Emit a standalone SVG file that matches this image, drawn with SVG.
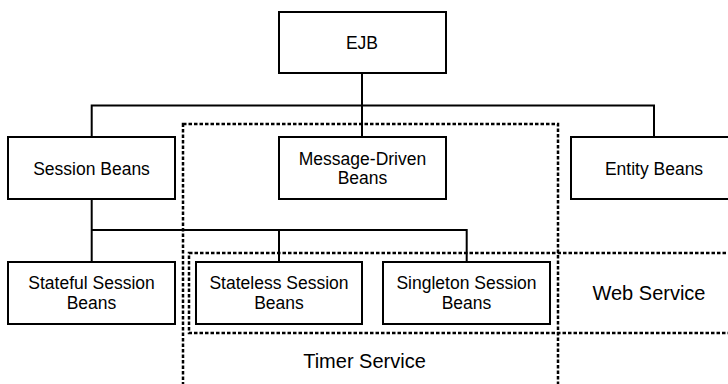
<svg xmlns="http://www.w3.org/2000/svg" width="728" height="384" viewBox="0 0 728 384">
<style>
.box{fill:#fff;stroke:#000;stroke-width:2}
.t{font-family:"Liberation Sans",Arial,sans-serif;font-size:17.5px;fill:#000;text-anchor:middle}
.big{font-size:20px}
.c{fill:none;stroke:#000;stroke-width:2}
.d{fill:none;stroke:#000;stroke-width:2.5;stroke-dasharray:3.5,2}
</style>
<rect width="728" height="384" fill="#fff"/>
<g id="connectors">
<polyline class="c" points="362,73 362,137"/>
<polyline class="c" points="91.7,137 91.7,105.5 654,105.5 654,137"/>
<polyline class="c" points="91.7,199 91.7,262"/>
<polyline class="c" points="91.7,230 466.7,230 466.7,262"/>
<polyline class="c" points="279,230 279,262"/>
</g>
<g id="ejb"><rect class="box" x="279" y="12" width="167" height="61"/><text class="t" x="362" y="49">EJB</text></g>
<g id="session-beans"><rect class="box" x="8" y="137" width="167" height="62"/><text class="t" x="91.5" y="175">Session Beans</text></g>
<g id="message-driven-beans"><rect class="box" x="279" y="137" width="167" height="62"/><text class="t" x="362.5" y="164.5">Message-Driven</text><text class="t" x="362.5" y="184">Beans</text></g>
<g id="entity-beans"><rect class="box" x="571" y="137" width="166" height="62"/><text class="t" x="654" y="175">Entity Beans</text></g>
<g id="stateful-session-beans"><rect class="box" x="8" y="262" width="167" height="62"/><text class="t" x="91.5" y="288.5">Stateful Session</text><text class="t" x="91.5" y="308.5">Beans</text></g>
<g id="stateless-session-beans"><rect class="box" x="196" y="262" width="166" height="62"/><text class="t" x="279" y="288.5">Stateless Session</text><text class="t" x="279" y="308.5">Beans</text></g>
<g id="singleton-session-beans"><rect class="box" x="383" y="262" width="167" height="62"/><text class="t" x="466.5" y="288.5">Singleton Session</text><text class="t" x="466.5" y="308.5">Beans</text></g>
<g id="timer-service"><rect class="d" x="183" y="124" width="375" height="270"/><text class="t big" x="364.5" y="368">Timer Service</text></g>
<g id="web-service"><rect class="d" x="189" y="253" width="550" height="80"/><text class="t big" x="649" y="300">Web Service</text></g>
</svg>
